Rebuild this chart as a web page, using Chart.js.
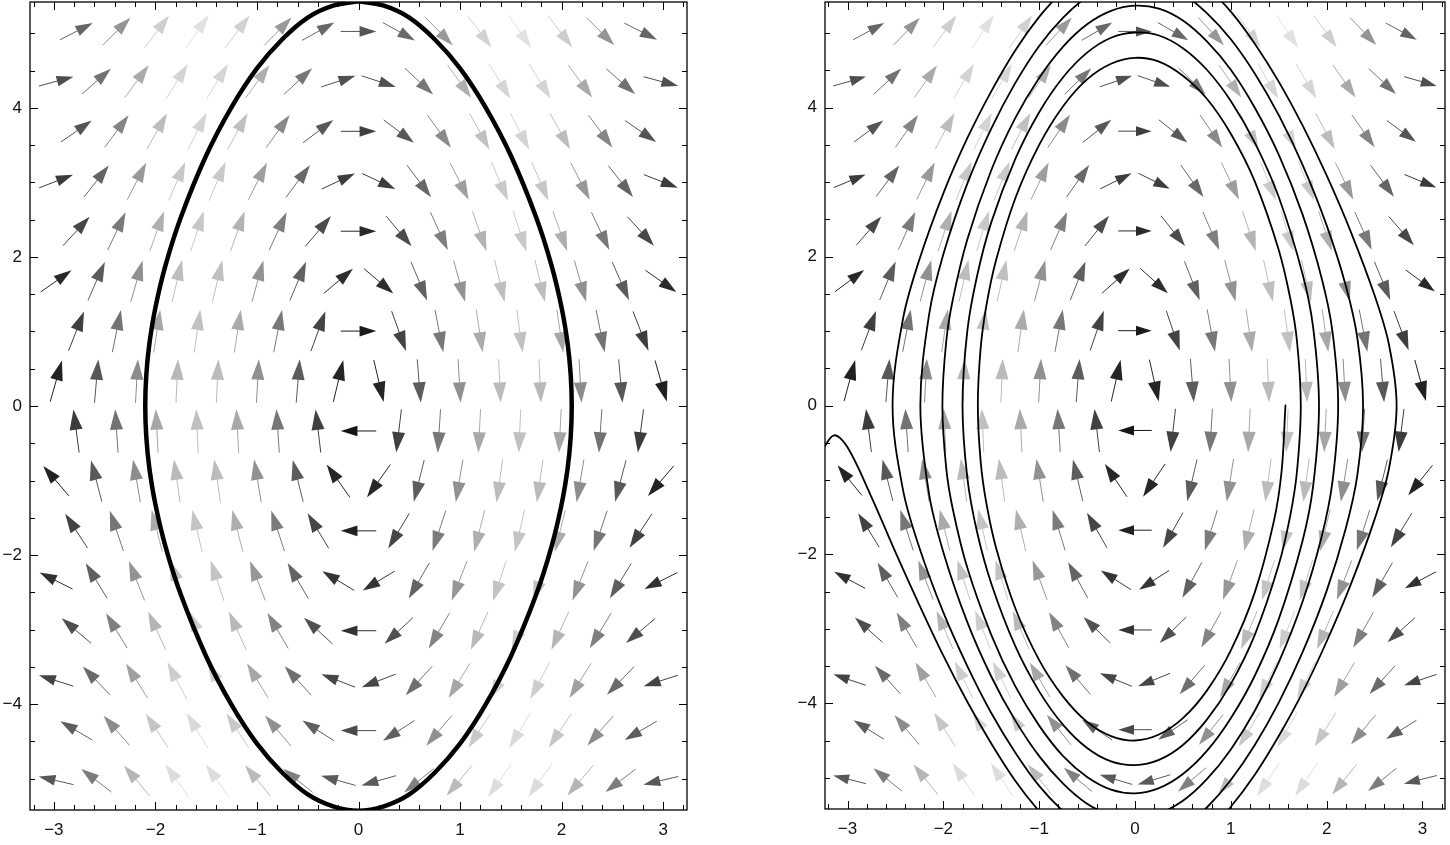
<!DOCTYPE html>
<html>
<head>
<meta charset="utf-8">
<script src="https://cdn.jsdelivr.net/npm/chart.js@4.4.1/dist/chart.umd.min.js"></script>
<style>
  html, body { margin: 0; padding: 0; background: #ffffff; }
  #wrap { position: relative; width: 1450px; height: 845px; overflow: hidden; background: #ffffff; }
  canvas { position: absolute; top: 0; }
  #c1 { left: 0; }
  #c2 { left: 720px; }
</style>
</head>
<body>
<div id="wrap">
  <canvas id="c1" width="720" height="845"></canvas>
  <canvas id="c2" width="730" height="845"></canvas>
</div>
<script>
// ---------- axis ticks ----------
const xTicks = [-3, -2, -1, 0, 1, 2, 3];
const yTicks = [-4, -2, 0, 2, 4];

// ---------- vector field (hexagonal grid of sample points) ----------
// row heights (y); rows 0,2,4,... use the "even" columns (which contain x = 0)
const fieldRowsY = [5.025, 4.355, 3.685, 3.015, 2.345, 1.675, 1.005, 0.335,
                    -0.335, -1.005, -1.675, -2.345, -3.015, -3.685, -4.355, -5.025];
// horizontal component of the field on each row
const fieldRowsU = [5.025, 4.355, 3.685, 3.015, 2.345, 1.675, 1.005, 0.335,
                    -0.335, -1.005, -1.675, -2.345, -3.015, -3.685, -4.355, -5.025];
const fieldColsEvenX = [-2.779, -2.382, -1.985, -1.588, -1.191, -0.794, -0.397, 0,
                        0.397, 0.794, 1.191, 1.588, 1.985, 2.382, 2.779];
// vertical component of the field on each even column
const fieldVEven = [3.48, 6.75, 8.97, 9.80, 9.10, 6.99, 3.79, 0,
                    -3.79, -6.99, -9.10, -9.80, -8.97, -6.75, -3.48];
const fieldColsOddX = [-2.978, -2.581, -2.184, -1.787, -1.390, -0.993, -0.596, -0.199,
                       0.199, 0.596, 0.993, 1.390, 1.787, 2.184, 2.581, 2.978];
const fieldVOdd = [1.60, 5.21, 8.02, 9.57, 9.64, 8.21, 5.50, 1.93,
                   -1.93, -5.50, -8.21, -9.64, -9.57, -8.02, -5.21, -1.60];

// ---------- left panel: closed orbit ----------
const orbitX = [0, 0.25, 0.5, 0.75, 1.0, 1.25, 1.5, 1.75, 1.9, 2.0, 2.06, 2.09,
                2.1,
                2.09, 2.06, 2.0, 1.9, 1.75, 1.5, 1.25, 1.0, 0.75, 0.5, 0.25,
                0,
                -0.25, -0.5, -0.75, -1.0, -1.25, -1.5, -1.75, -1.9, -2.0, -2.06, -2.09,
                -2.1,
                -2.09, -2.06, -2.0, -1.9, -1.75, -1.5, -1.25, -1.0, -0.75, -0.5, -0.25,
                0];
const orbitY = [5.43, 5.37, 5.21, 4.92, 4.53, 4.01, 3.36, 2.53, 1.89, 1.32, 0.83, 0.41,
                0,
                -0.41, -0.83, -1.32, -1.89, -2.53, -3.36, -4.01, -4.53, -4.92, -5.21, -5.37,
                -5.43,
                -5.37, -5.21, -4.92, -4.53, -4.01, -3.36, -2.53, -1.89, -1.32, -0.83, -0.41,
                0,
                0.41, 0.83, 1.32, 1.89, 2.53, 3.36, 4.01, 4.53, 4.92, 5.21, 5.37,
                5.43];

// ---------- right panel: spiralling trajectory ----------
const trajX = [
  1.57, 1.53, 1.45, 1.25, 1.0, 0.75, 0.5, 0.25, 0, -0.25, -0.5, -0.75, -1.0, -1.25, -1.45, -1.55, -1.61, -1.64,
  -1.61, -1.55, -1.45, -1.25, -1.0, -0.75, -0.5, -0.25, 0, 0.25, 0.5, 0.75, 1.0, 1.25, 1.5, 1.62, 1.69, 1.73,
  1.69, 1.62, 1.5, 1.25, 1.0, 0.75, 0.5, 0.25, 0, -0.25, -0.5, -0.75, -1.0, -1.25, -1.5, -1.65, -1.75, -1.80,
  -1.75, -1.65, -1.5, -1.25, -1.0, -0.75, -0.5, -0.25, 0, 0.25, 0.5, 0.75, 1.0, 1.25, 1.5, 1.75, 1.86, 1.92,
  1.86, 1.75, 1.5, 1.25, 1.0, 0.75, 0.5, 0.25, 0, -0.25, -0.5, -0.75, -1.0, -1.25, -1.5, -1.75, -1.9, -1.97, -2.01,
  -1.97, -1.9, -1.75, -1.5, -1.25, -1.0, -0.75, -0.5, -0.25, 0, 0.25, 0.5, 0.75, 1.0, 1.25, 1.5, 1.75, 1.95, 2.06, 2.12,
  2.06, 1.95, 1.75, 1.5, 1.25, 1.0, 0.75, 0.5, 0.25, 0, -0.25, -0.5, -0.75, -1.0, -1.25, -1.5, -1.75, -2.0, -2.15, -2.24,
  -2.15, -2.0, -1.75, -1.5, -1.25, -1.0, -0.75, -0.5, -0.25, 0, 0.25, 0.5, 0.75, 1.0, 1.25, 1.5, 1.75, 2.0, 2.2, 2.32, 2.38,
  2.32, 2.2, 2.0, 1.75, 1.5, 1.25, 1.0, 0.75, 0.5, 0.25, 0, -0.25, -0.5, -0.75, -1.0, -1.25, -1.5, -1.75, -2.0, -2.25, -2.42, -2.53,
  -2.42, -2.25, -2.0, -1.75, -1.5, -1.25, -1.0, -0.75, -0.5, 0, 0.5, 0.75, 1.0, 1.25, 1.5, 1.75, 2.0, 2.25, 2.5, 2.65, 2.73,
  2.65, 2.5, 2.25, 2.0, 1.75, 1.5, 1.25, 1.0, 0.75, 0.5, 0, -0.5, -0.75, -1.0, -1.25, -1.5, -1.75, -2.0, -2.25, -2.5, -2.75, -3.0, -3.14, -3.26
];
const trajY = [
  0, -0.88, -1.55, -2.51, -3.29, -3.83, -4.20, -4.42, -4.50, -4.44, -4.25, -3.91, -3.42, -2.72, -1.91, -1.32, -0.76, 0,
  0.78, 1.35, 1.95, 2.78, 3.50, 4.02, 4.38, 4.59, 4.67, 4.62, 4.43, 4.12, 3.65, 3.01, 2.09, 1.44, 0.87, 0,
  -0.89, -1.48, -2.14, -3.08, -3.74, -4.22, -4.56, -4.76, -4.83, -4.78, -4.60, -4.29, -3.84, -3.23, -2.39, -1.69, -0.97, 0,
  1.00, 1.73, 2.46, 3.31, 3.94, 4.41, 4.74, 4.94, 5.01, 4.97, 4.80, 4.51, 4.09, 3.53, 2.80, 1.76, 1.04, 0,
  -1.07, -1.81, -2.87, -3.63, -4.20, -4.64, -4.95, -5.14, -5.21, -5.16, -4.99, -4.71, -4.30, -3.77, -3.08, -2.18, -1.40, -0.84, 0,
  0.86, 1.43, 2.23, 3.16, 3.86, 4.40, 4.82, 5.12, 5.30, 5.37, 5.33, 5.17, 4.89, 4.51, 4.00, 3.37, 2.56, 1.70, 1.00, 0,
  -1.03, -1.75, -2.63, -3.45, -4.10, -4.62, -5.02, -5.31, -5.48, -5.55, -5.50, -5.35, -5.08, -4.71, -4.23, -3.64, -2.91, -1.97, -1.18, 0,
  1.21, 2.03, 2.98, 3.72, 4.33, 4.83, 5.21, 5.49, 5.66, 5.72, 5.68, 5.53, 5.27, 4.92, 4.46, 3.90, 3.23, 2.42, 1.61, 0.91, 0,
  -0.94, -1.65, -2.49, -3.31, -3.99, -4.56, -5.03, -5.40, -5.67, -5.83, -5.89, -5.85, -5.70, -5.45, -5.11, -4.66, -4.13, -3.50, -2.78, -1.91, -1.14, 0,
  1.17, 1.96, 2.85, 3.59, 4.22, 4.77, 5.22, 5.57, 5.83, 6.05, 5.86, 5.62, 5.29, 4.86, 4.35, 3.76, 3.09, 2.34, 1.48, 0.82, 0,
  -0.85, -1.53, -2.41, -3.17, -3.85, -4.44, -4.96, -5.39, -5.74, -5.99, -6.20, -6.01, -5.78, -5.45, -5.04, -4.54, -3.98, -3.36, -2.68, -1.97, -1.23, -0.56, -0.40, -0.59
];

// ---------- styling ----------
const X_MIN = -3.235, X_MAX = 3.235, Y_MIN = -5.42, Y_MAX = 5.42;
const ARROW_FRAC = 0.054;   // arrow length as fraction of the plot box
const HEAD_FRAC = 0.47;     // head length relative to arrow length
const HEAD_HALF = 0.15;     // head half width relative to arrow length
const grayStops = [[0, 18], [2, 36], [5, 84], [6.3, 104], [8.5, 150], [10, 198], [11.2, 230]];
const FONT = '"Liberation Sans", Arial, sans-serif';

function shade(m) {
  let g = grayStops[grayStops.length - 1][1];
  for (let i = 0; i < grayStops.length - 1; i++) {
    const [m0, g0] = grayStops[i], [m1, g1] = grayStops[i + 1];
    if (m <= m1) { g = g0 + (g1 - g0) * Math.max(0, (m - m0)) / (m1 - m0); break; }
  }
  g = Math.round(g);
  return `rgb(${g},${g},${g})`;
}

function buildField() {
  const pts = [];
  fieldRowsY.forEach((y, r) => {
    const even = r % 2 === 0;
    const xs = even ? fieldColsEvenX : fieldColsOddX;
    const vs = even ? fieldVEven : fieldVOdd;
    xs.forEach((x, c) => pts.push({ x: x, y: y, u: fieldRowsU[r], v: vs[c] }));
  });
  return pts;
}
function zipXY(xs, ys) { return xs.map((x, i) => ({ x: x, y: ys[i] })); }

const vectorFieldPlugin = {
  id: 'vectorField',
  beforeDatasetsDraw(chart) {
    const idx = chart.data.datasets.findIndex(d => d.isField);
    if (idx < 0) return;
    const pts = chart.data.datasets[idx].data;
    const xs = chart.scales.x, ys = chart.scales.y;
    const W = xs.max - xs.min, H = ys.max - ys.min;
    const a = chart.chartArea, ctx = chart.ctx;
    ctx.save();
    ctx.beginPath();
    ctx.rect(a.left, a.top, a.right - a.left, a.bottom - a.top);
    ctx.clip();
    pts.forEach(p => {
      const n = Math.hypot(p.u / W, p.v / H);
      if (n === 0) return;
      const s = ARROW_FRAC / n;
      const dx = p.u * s / 2, dy = p.v * s / 2;
      const x0 = xs.getPixelForValue(p.x - dx), y0 = ys.getPixelForValue(p.y - dy);
      const x1 = xs.getPixelForValue(p.x + dx), y1 = ys.getPixelForValue(p.y + dy);
      const L = Math.hypot(x1 - x0, y1 - y0);
      const ux = (x1 - x0) / L, uy = (y1 - y0) / L;
      const hl = L * HEAD_FRAC, hw = L * HEAD_HALF;
      const bx = x1 - ux * hl, by = y1 - uy * hl;
      const col = shade(Math.hypot(p.u, p.v));
      ctx.strokeStyle = col;
      ctx.fillStyle = col;
      ctx.lineWidth = 1;
      ctx.beginPath();
      ctx.moveTo(x0, y0);
      ctx.lineTo(bx + ux * 2, by + uy * 2);
      ctx.stroke();
      ctx.beginPath();
      ctx.moveTo(x1, y1);
      ctx.lineTo(bx - uy * hw, by + ux * hw);
      ctx.lineTo(bx + uy * hw, by - ux * hw);
      ctx.closePath();
      ctx.fill();
    });
    ctx.restore();
  }
};

const framePlugin = {
  id: 'frameTicks',
  afterDatasetsDraw(chart) {
    const a = chart.chartArea, ctx = chart.ctx;
    const xs = chart.scales.x, ys = chart.scales.y;
    ctx.save();
    ctx.strokeStyle = '#000';
    ctx.lineWidth = 1;
    ctx.beginPath();
    for (let k = Math.ceil(xs.min / 0.2); k * 0.2 <= xs.max + 1e-9; k++) {
      const v = k * 0.2;
      const major = Math.abs(v - Math.round(v)) < 1e-6;
      const len = major ? 8 : 5;
      const px = Math.round(xs.getPixelForValue(v)) + 0.5;
      ctx.moveTo(px, a.bottom); ctx.lineTo(px, a.bottom - len);
      ctx.moveTo(px, a.top); ctx.lineTo(px, a.top + len);
    }
    for (let k = Math.ceil(ys.min / 0.5); k * 0.5 <= ys.max + 1e-9; k++) {
      const v = k * 0.5;
      const major = Math.abs(v / 2 - Math.round(v / 2)) < 1e-6;
      const len = major ? 8 : 5;
      const py = Math.round(ys.getPixelForValue(v)) + 0.5;
      ctx.moveTo(a.left, py); ctx.lineTo(a.left + len, py);
      ctx.moveTo(a.right, py); ctx.lineTo(a.right - len, py);
    }
    ctx.stroke();
    ctx.lineWidth = 1.3;
    ctx.strokeRect(a.left, a.top, a.right - a.left, a.bottom - a.top);
    ctx.restore();
  }
};

function fmt(v) { return v < 0 ? '\u2212' + Math.abs(v) : String(v); }

function makeChart(canvasId, lineData, lineWidth, pad, yWidth, xHeight) {
  return new Chart(document.getElementById(canvasId), {
    type: 'scatter',
    data: {
      datasets: [
        { isField: true, data: buildField(), pointRadius: 0, showLine: false },
        { data: lineData, showLine: true, pointRadius: 0, borderColor: '#000',
          borderWidth: lineWidth, tension: 0.35, fill: false, clip: 0,
          borderJoinStyle: 'round', borderCapStyle: 'round' }
      ]
    },
    options: {
      responsive: false,
      animation: false,
      events: [],
      layout: { padding: pad },
      elements: { line: { capBezierPoints: false } },
      plugins: { legend: { display: false }, tooltip: { enabled: false } },
      scales: {
        x: {
          type: 'linear', min: X_MIN, max: X_MAX,
          grid: { display: false, drawTicks: false, tickLength: 0 }, border: { display: false },
          afterBuildTicks: s => { s.ticks = xTicks.map(v => ({ value: v })); },
          afterFit: s => { s.height = xHeight; s.paddingLeft = 0; s.paddingRight = 0; },
          ticks: { color: '#111', font: { family: FONT, size: 17 }, padding: 10,
                   maxRotation: 0, autoSkip: false, callback: v => fmt(v) }
        },
        y: {
          type: 'linear', min: Y_MIN, max: Y_MAX,
          grid: { display: false, drawTicks: false, tickLength: 0 }, border: { display: false },
          afterBuildTicks: s => { s.ticks = yTicks.map(v => ({ value: v })); },
          afterFit: s => { s.width = yWidth; s.paddingTop = 0; s.paddingBottom = 0; },
          ticks: { color: '#111', font: { family: FONT, size: 17 }, padding: 8,
                   autoSkip: false, callback: v => fmt(v) }
        }
      }
    },
    plugins: [vectorFieldPlugin, framePlugin]
  });
}

makeChart('c1', zipXY(orbitX, orbitY), 4.5, { left: 0, right: 33, top: 2, bottom: 0 }, 30, 35);
makeChart('c2', zipXY(trajX, trajY), 1.8, { left: 70, right: 5, top: 2, bottom: 0 }, 35, 36);
</script>
</body>
</html>
